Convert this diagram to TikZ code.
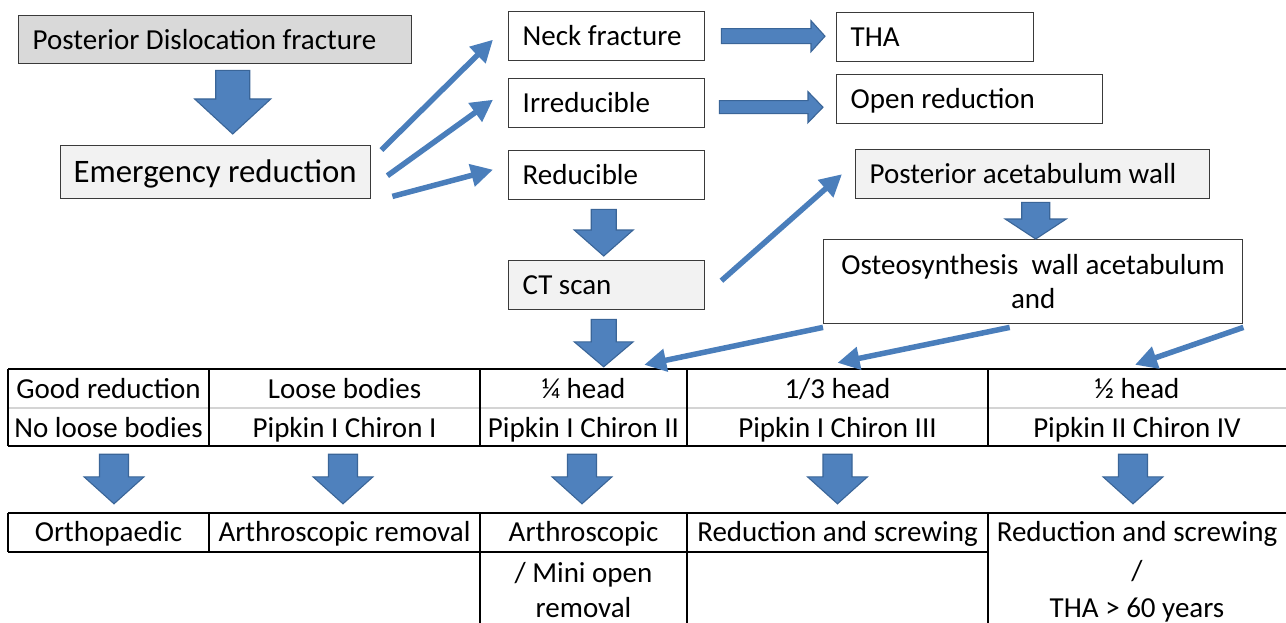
\documentclass[tikz,border=0pt]{standalone}
\usepackage{fontspec}
\setmainfont{Carlito}
\usetikzlibrary{arrows.meta,calc}
\definecolor{blkfill}{HTML}{4F81BD}
\definecolor{blkline}{HTML}{3A6598}
\definecolor{thin}{HTML}{4A7EBB}
\definecolor{boxline}{HTML}{3A3A3A}
\definecolor{grayA}{HTML}{D9D9D9}
\definecolor{grayB}{HTML}{F2F2F2}
\definecolor{sepgray}{HTML}{D4D4D4}
\newcommand\fs{\fontsize{29}{34}\selectfont}
\newcommand\fb{\fontsize{32.8}{38}\selectfont}
\newcommand\LB[2]{\makebox[#1pt][l]{#2}}
% block arrow down: from, to, shaft half, head half, head len, top gap, bottom gap, x offset
\newcommand\bdown[8]{%
  \path[blk] let \p1=(#1.south), \p2=(#2.north) in
    (\x1+#8pt-#3pt,\y1-#6pt) -- (\x1+#8pt+#3pt,\y1-#6pt)
    -- (\x1+#8pt+#3pt,\y2+#7pt+#5pt) -- (\x1+#8pt+#4pt,\y2+#7pt+#5pt)
    -- (\x1+#8pt,\y2+#7pt) -- (\x1+#8pt-#4pt,\y2+#7pt+#5pt)
    -- (\x1+#8pt-#3pt,\y2+#7pt+#5pt) -- cycle;}
% block arrow right: from, to, shaft half, head half, head len, left gap, right gap, y offset (down)
\newcommand\bright[8]{%
  \path[blk] let \p1=(#1.east), \p2=(#2.west) in
    (\x1+#6pt,\y1-#8pt+#3pt) -- (\x2-#7pt-#5pt,\y1-#8pt+#3pt)
    -- (\x2-#7pt-#5pt,\y1-#8pt+#4pt) -- (\x2-#7pt,\y1-#8pt)
    -- (\x2-#7pt-#5pt,\y1-#8pt-#4pt) -- (\x2-#7pt-#5pt,\y1-#8pt-#3pt)
    -- (\x1+#6pt,\y1-#8pt-#3pt) -- cycle;}
\tikzset{
  blk/.style={fill=blkfill, draw=blkline, line width=1.1pt, line join=miter},
  framed/.style={draw=boxline, line width=1.4pt, anchor=north west, inner ysep=0pt, font=\fs},
  box/.style={framed, inner xsep=14pt, text height=18.7pt, text depth=0pt},
  thinarrow/.style={draw=thin, line width=5.5pt, -{Triangle[length=22pt,width=22pt]}},
  cell/.style={draw=none, inner sep=0pt},
  ctext/.style={font=\fs, inner sep=0pt, text height=18.7pt, text depth=0pt, anchor=center},
  tline/.style={line width=1.3pt, draw=black},
}
\begin{document}
\begin{tikzpicture}[x=1pt,y=-1pt]
\useasboundingbox[fill=white] (0,0) rectangle (1286,623);

% ---- boxes ----
\node[box, fill=grayA, minimum width=393pt, minimum height=48pt] (pdf) at (18,15) {\LB{365}{Posterior Dislocation fracture}};
\node[box, fill=grayB, minimum width=310pt, minimum height=53pt, font=\fb, text height=21.1pt, inner xsep=13pt] (er) at (60,145) {\LB{284}{Emergency reduction}};
\node[box, minimum width=196pt, minimum height=49pt] (neck) at (508,11) {\LB{168}{Neck fracture}};
\node[box, minimum width=196pt, minimum height=49pt] (irr) at (508,78) {\LB{168}{Irreducible}};
\node[box, minimum width=196pt, minimum height=49pt] (red) at (508,150) {\LB{168}{Reducible}};
\node[box, fill=grayB, minimum width=196pt, minimum height=49pt] (ct) at (508,260) {\LB{168}{CT scan}};
\node[box, minimum width=197pt, minimum height=49pt] (tha) at (836,12) {\LB{169}{THA}};
\node[box, minimum width=266pt, minimum height=49pt] (open) at (836,74) {\LB{238}{Open reduction}};
\node[box, fill=grayB, minimum width=354pt, minimum height=49pt] (paw) at (855,149) {\LB{326}{Posterior acetabulum wall}};
\node[framed, inner xsep=0pt, minimum width=419pt, minimum height=84pt, align=center] (osteo) at (823,239) {Osteosynthesis\ \ wall acetabulum\\and};

% ---- table structure ----
\draw[tline] (8,369) -- (1286,369);
\draw[line width=1.5pt, draw=sepgray] (8,408) -- (1286,408);
\draw[tline] (8,446) -- (1286,446);
\foreach \xx in {8,209,480,687,988} \draw[tline] (\xx,369) -- (\xx,446);
\draw[tline] (8,513) -- (1286,513);
\draw[tline] (8,552) -- (988,552);
\foreach \xx in {8,209} \draw[tline] (\xx,513) -- (\xx,552);
\foreach \xx in {480,687,988} \draw[tline] (\xx,513) -- (\xx,623);

% cell anchors (upper and lower tables)
\node[cell, minimum width=201pt, minimum height=77pt] (u1) at (108.5,407.5) {};
\node[cell, minimum width=271pt, minimum height=77pt] (u2) at (344.5,407.5) {};
\node[cell, minimum width=207pt, minimum height=77pt] (u3) at (583.5,407.5) {};
\node[cell, minimum width=301pt, minimum height=77pt] (u4) at (837.5,407.5) {};
\node[cell, minimum width=298pt, minimum height=77pt] (u5) at (1137,407.5) {};
\node[cell, minimum width=201pt, minimum height=39pt] (l1) at (108.5,532.5) {};
\node[cell, minimum width=271pt, minimum height=39pt] (l2) at (344.5,532.5) {};
\node[cell, minimum width=207pt, minimum height=39pt] (l3) at (583.5,532.5) {};
\node[cell, minimum width=301pt, minimum height=39pt] (l4) at (837.5,532.5) {};
\node[cell, minimum width=298pt, minimum height=39pt] (l5) at (1137,532.5) {};

% upper table text
\node[ctext] (t1a) at (108.5,389) {Good reduction};
\node[ctext] (t1b) at (108.5,428.5) {No loose bodies};
\node[ctext] (t2a) at (344.5,389) {Loose bodies};
\node[ctext] (t2b) at (344.5,428.5) {Pipkin I Chiron I};
\node[ctext] (t3a) at (583.5,389) {¼ head};
\node[ctext] (t3b) at (583.5,428.5) {Pipkin I Chiron II};
\node[ctext] (t4a) at (837.5,389) {1/3 head};
\node[ctext] (t4b) at (837.5,428.5) {Pipkin I Chiron III};
\node[ctext] (t5a) at (1137,389) {½ head};
\node[ctext] (t5b) at (1137,428.5) {Pipkin II Chiron IV};

% lower table text
\node[ctext] (b1) at (108.5,532.5) {Orthopaedic};
\node[ctext] (b2) at (344.5,532.5) {Arthroscopic removal};
\node[ctext] (b3a) at (583.5,532.5) {Arthroscopic};
\node[ctext] (b3b) at (583.5,573) {/ Mini open};
\node[ctext] (b3c) at (583.5,608) {removal};
\node[ctext] (b4) at (837.5,532.5) {Reduction and screwing};
\node[ctext] (b5a) at (1137,532.5) {Reduction and screwing};
\node[ctext] (b5b) at (1137,571.5) {/};
\node[ctext] (b5c) at (1137,608) {THA > 60 years};

% ---- block arrows ----
\bdown{pdf}{er}{17}{38}{35}{6}{11}{17.5}
\bdown{red}{ct}{12.5}{29.5}{26}{9}{4}{-3}
\bdown{ct}{u3}{12.5}{29.5}{25}{9}{2}{-3}
\bdown{paw}{osteo}{14}{30.5}{20}{3}{0}{3}
\bdown{u1}{l1}{14.5}{30}{27}{8}{9}{5.5}
\bdown{u2}{l2}{14.5}{30}{27}{8}{9}{-1.5}
\bdown{u3}{l3}{14.5}{30}{27}{8}{9}{-1.5}
\bdown{u4}{l4}{14.5}{30}{27}{8}{9}{0}
\bdown{u5}{l5}{14.5}{30}{27}{8}{9}{-4}
\bright{neck}{tha}{7.5}{15.5}{14}{16}{11}{0}
\bright{irr}{open}{6.5}{15.5}{15}{14}{13}{4}

% ---- thin arrows ----
\draw[thinarrow] ([shift={(10,5)}]er.north east) -- ([shift={(-15,3.5)}]neck.west);
\draw[thinarrow] ([shift={(16,3.5)}]er.east) -- ([shift={(-15,-3.5)}]irr.west);
\draw[thinarrow] ([shift={(21,-3)}]er.south east) -- ([shift={(-15,-5.5)}]red.west);
\draw[thinarrow] ([shift={(16,-4.5)}]ct.east) -- ([shift={(-13,0)}]paw.west);
\draw[thinarrow] ([shift={(0,3)}]osteo.south west) -- ([shift={(-43,-4)}]u3.north east);
\draw[thinarrow] ([shift={(-23.5,3)}]osteo.south) -- ([shift={(0,-6)}]u4.north);
\draw[thinarrow] ([shift={(0,3)}]osteo.south east) -- ([shift={(-2,-4)}]u5.north);
\end{tikzpicture}
\end{document}
